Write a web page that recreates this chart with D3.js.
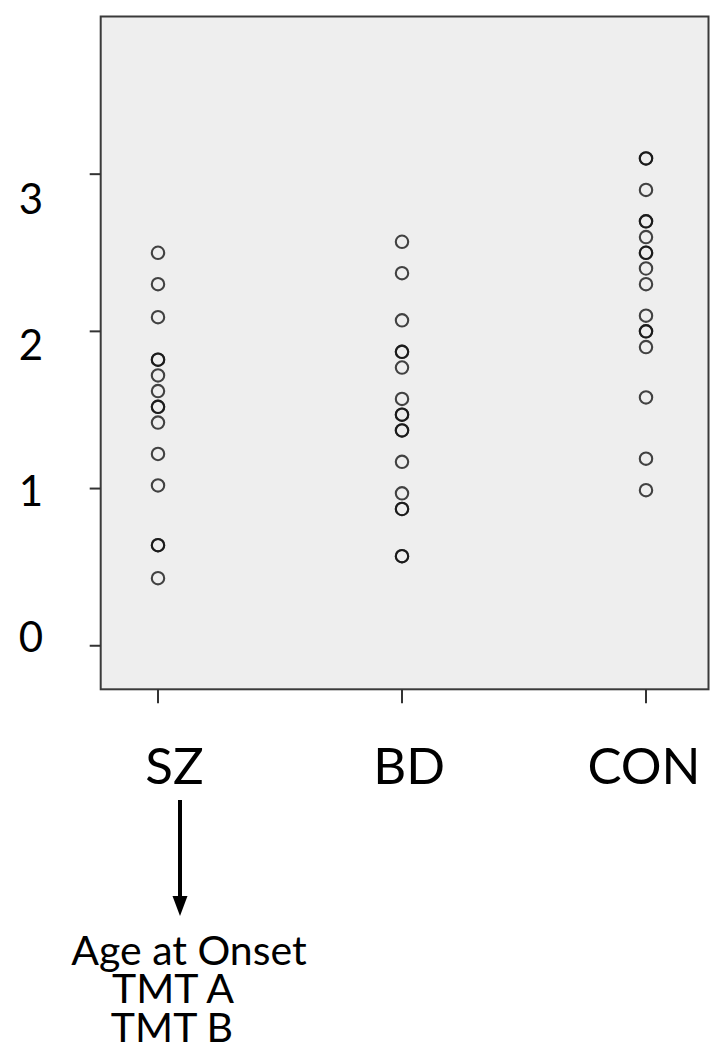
<!DOCTYPE html>
<html>
<head>
<meta charset="utf-8">
<script src="https://cdn.jsdelivr.net/npm/d3@7"></script>
<style>
  html, body { margin: 0; padding: 0; background: #fff; }
  svg { display: block; }
  text { font-family: Lato, "Open Sans", "Liberation Sans", sans-serif; font-weight: 400; fill: #000; }
</style>
</head>
<body>
<script>
const categories = ["SZ", "BD", "CON"];
const szValues  = [2.50, 2.30, 2.09, 1.82, 1.82, 1.72, 1.62, 1.52, 1.52, 1.42, 1.22, 1.02, 0.64, 0.64, 0.43];
const bdValues  = [2.57, 2.37, 2.07, 1.87, 1.87, 1.77, 1.57, 1.47, 1.47, 1.37, 1.37, 1.17, 0.97, 0.87, 0.87, 0.57, 0.57];
const conValues = [3.10, 3.10, 2.90, 2.70, 2.70, 2.60, 2.50, 2.50, 2.40, 2.30, 2.10, 2.00, 2.00, 1.90, 1.58, 1.19, 0.99];
const yTicks = [0, 1, 2, 3];
const noteLines = ["Age at Onset", "TMT A", "TMT B"];

const W = 718, H = 1051;
const svg = d3.select("body").append("svg").attr("width", W).attr("height", H);

const box = { left: 100.7, right: 708.5, top: 16.5, bottom: 689.3 };

const x = d3.scalePoint().domain(categories).range([158, 646]);
const xLabel = d3.scalePoint().domain(categories).range([174.5, 644]);
const y = d3.scaleLinear().domain([-0.277, 4.003]).range([box.bottom, box.top]);
const yLabel = d3.scaleLinear().domain([0, 3]).range([652, 214]);

// plot background
svg.append("rect")
  .attr("x", box.left).attr("y", box.top)
  .attr("width", box.right - box.left).attr("height", box.bottom - box.top)
  .attr("fill", "#eeeeee")
  .attr("stroke", "#3a3a3a").attr("stroke-width", 2);

// y ticks
svg.append("g").selectAll("line").data(yTicks).join("line")
  .attr("x1", box.left - 11).attr("x2", box.left)
  .attr("y1", d => y(d)).attr("y2", d => y(d))
  .attr("stroke", "#333").attr("stroke-width", 2);

// x ticks
svg.append("g").selectAll("line").data(categories).join("line")
  .attr("x1", d => x(d)).attr("x2", d => x(d))
  .attr("y1", box.bottom).attr("y2", box.bottom + 14)
  .attr("stroke", "#333").attr("stroke-width", 2);

// points
const series = [
  { cat: "SZ", values: szValues },
  { cat: "BD", values: bdValues },
  { cat: "CON", values: conValues }
];
const pts = series.flatMap(s => s.values.map(v => ({ cat: s.cat, v })));
svg.append("g").selectAll("circle").data(pts).join("circle")
  .attr("cx", d => x(d.cat)).attr("cy", d => y(d.v))
  .attr("r", 6.2)
  .attr("fill", "none")
  .attr("stroke", "#111")
  .attr("stroke-opacity", 0.78)
  .attr("stroke-width", 2.1);

// y labels
svg.append("g").selectAll("text").data(yTicks).join("text")
  .attr("x", 31).attr("y", d => yLabel(d))
  .attr("text-anchor", "middle")
  .attr("font-size", 42)
  .text(d => d);

// x labels
svg.append("g").selectAll("text").data(categories).join("text")
  .attr("x", d => xLabel(d)).attr("y", 783.6)
  .attr("text-anchor", "middle")
  .attr("font-size", 51)
  .text(d => d);

// arrow
svg.append("line")
  .attr("x1", 180).attr("x2", 180).attr("y1", 800).attr("y2", 898)
  .attr("stroke", "#000").attr("stroke-width", 4);
svg.append("path")
  .attr("d", "M172.5,896 L187.5,896 L180,916 Z")
  .attr("fill", "#000");

// note lines
const noteX = [189, 173, 172];
const noteY = [965, 1003, 1041.7];
svg.append("g").selectAll("text").data(noteLines).join("text")
  .attr("x", (d, i) => noteX[i]).attr("y", (d, i) => noteY[i])
  .attr("text-anchor", "middle")
  .attr("font-size", 41)
  .text(d => d);
</script>
</body>
</html>
